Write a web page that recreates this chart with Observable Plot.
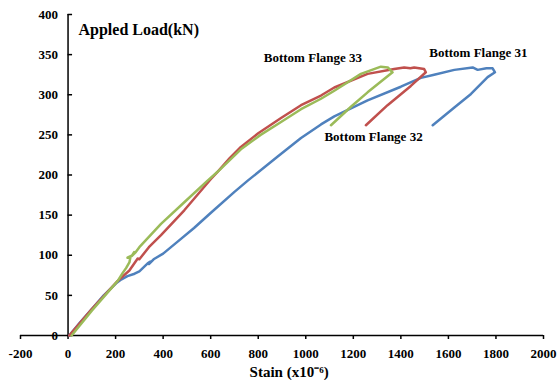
<!DOCTYPE html>
<html>
<head>
<meta charset="utf-8">
<script src="https://cdn.jsdelivr.net/npm/d3@7"></script>
<script src="https://cdn.jsdelivr.net/npm/@observablehq/plot@0.6"></script>
<style>
  html, body { margin: 0; padding: 0; background: #fff; }
</style>
</head>
<body>
<script>
// Series: Bottom Flange 31 (blue)
const strain31 = [5, 50, 100, 150, 202, 225, 250, 280, 300, 335, 345, 340, 360, 400, 461, 530, 601, 700, 756, 882, 980, 1064, 1120, 1260, 1400, 1484, 1540, 1625, 1702, 1723, 1760, 1786, 1796, 1765, 1695, 1625, 1534];
const load31   = [0, 16, 33, 50, 65, 70, 74, 77, 80, 90, 92, 89, 95, 102, 117, 134, 153, 179, 193, 223, 246, 263, 273, 293, 310, 321, 325, 331, 334, 331, 333, 333, 328, 322, 301, 284, 262];

// Series: Bottom Flange 32 (red)
const strain32 = [5, 100, 209, 258, 293, 300, 340, 391, 489, 601, 629, 680, 727, 800, 896, 980, 1064, 1120, 1260, 1372, 1414, 1440, 1456, 1498, 1505, 1442, 1344, 1253];
const load32   = [0, 33, 68, 81, 96, 95, 110, 125, 156, 195, 204, 221, 235, 252, 271, 287, 299, 309, 326, 332, 334, 333, 334, 332, 328, 311, 287, 262];

// Series: Bottom Flange 33 (green)
const strain33 = [15, 100, 209, 230, 244, 258, 262, 250, 270, 278, 268, 285, 300, 391, 489, 587, 629, 727, 810, 896, 980, 1064, 1120, 1232, 1316, 1345, 1365, 1260, 1190, 1106];
const load33   = [0, 31, 68, 78, 84, 91, 97, 97, 100, 104, 99, 104, 110, 139, 166, 193, 204, 232, 250, 266, 282, 295, 305, 326, 335, 334, 328, 303, 285, 262];

const seriesNames = ["Bottom Flange 31", "Bottom Flange 32", "Bottom Flange 33"];
const seriesColors = ["#4F81BD", "#C0504D", "#9BBB59"];

const xTicks = [-200, 0, 200, 400, 600, 800, 1000, 1200, 1400, 1600, 1800, 2000];
const yTicks = [0, 50, 100, 150, 200, 250, 300, 350, 400];

const yTitle = "Appled Load(kN)";
const xTitle = "Stain (x10\u207B\u2076)";

function toRows(xs, ys, name) {
  return xs.map((x, i) => ({strain: x, load: ys[i], series: name}));
}
const rows = [
  ...toRows(strain31, load31, seriesNames[0]),
  ...toRows(strain32, load32, seriesNames[1]),
  ...toRows(strain33, load33, seriesNames[2])
];

const font = "'Liberation Serif', 'Times New Roman', serif";

const chart = Plot.plot({
  width: 557,
  height: 380,
  marginLeft: 20,
  marginRight: 14,
  marginTop: 14,
  marginBottom: 45,
  style: {fontFamily: font, fontWeight: "bold", fontSize: "13px", color: "#000", background: "#fff"},
  x: {domain: [-200, 2000]},
  y: {domain: [0, 400], axis: null},
  color: {domain: seriesNames, range: seriesColors},
  marks: [
    // x axis
    Plot.axisX({ticks: xTicks, tickSize: 4, tickPadding: 9, tickFormat: d => String(d), label: null, strokeWidth: 1.5}),
    Plot.ruleY([0], {stroke: "#000", strokeWidth: 1.5}),
    // y axis at x = 0
    Plot.ruleX([0], {y1: 0, y2: 400, stroke: "#000", strokeWidth: 1.5}),
    Plot.ruleY(yTicks, {y: d => d, x1: 0, x2: 19, stroke: "#000", strokeWidth: 1.5}),
    Plot.text(yTicks, {x: 0, y: d => d, text: d => String(d), dx: -10, textAnchor: "end", fontSize: 13}),
    // curves
    Plot.line(rows, {x: "strain", y: "load", z: "series", stroke: "series", strokeWidth: 2.5, strokeLinejoin: "round", strokeLinecap: "round"}),
    // series labels
    Plot.text([seriesNames[0]], {x: 1726, y: 352, text: d => d, fontSize: 13}),
    Plot.text([seriesNames[1]], {x: 1285, y: 247, text: d => d, fontSize: 13}),
    Plot.text([seriesNames[2]], {x: 1030, y: 346, text: d => d, fontSize: 13}),
    // titles
    Plot.text([yTitle], {frameAnchor: "top-left", dx: 58, dy: 15, text: d => d, textAnchor: "start", lineAnchor: "middle", fontSize: 16}),
    Plot.text([xTitle], {frameAnchor: "bottom", x: 930, dy: 37, text: d => d, lineAnchor: "middle", fontSize: 15})
  ]
});
document.body.appendChild(chart);
</script>
</body>
</html>
